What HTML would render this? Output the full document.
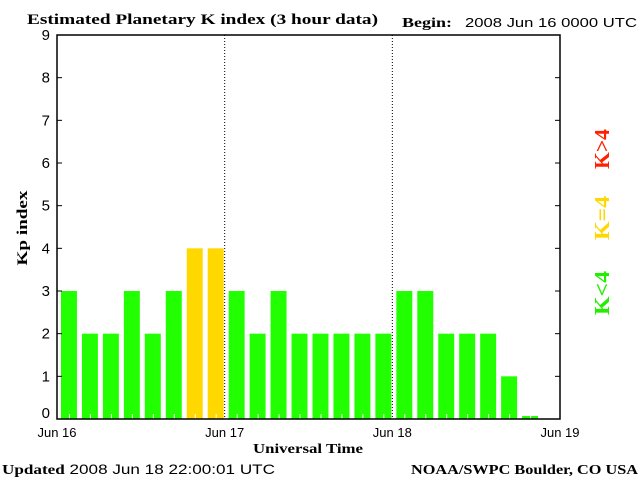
<!DOCTYPE html>
<html><head><meta charset="utf-8"><style>
body{margin:0;background:#fff;}
svg text{font-family:"Liberation Sans",sans-serif;}
.s{font-family:"Liberation Serif",serif;font-weight:bold;}
</style></head><body>
<svg width="640" height="480" viewBox="0 0 640 480">
<text class="s" x="27" y="24" font-size="15" textLength="351" lengthAdjust="spacingAndGlyphs">Estimated Planetary K index (3 hour data)</text>
<text class="s" x="402" y="27" font-size="14" textLength="50" lengthAdjust="spacingAndGlyphs">Begin:</text>
<text x="465" y="27" font-size="13" textLength="172" lengthAdjust="spacingAndGlyphs">2008 Jun 16 0000 UTC</text>
<g id="bars"></g>
<g id="axes"></g>
<text class="s" transform="translate(27,228) rotate(-90)" text-anchor="middle" font-size="15" textLength="75" lengthAdjust="spacingAndGlyphs">Kp index</text>
<text class="s" x="308" y="453" text-anchor="middle" font-size="14" textLength="110" lengthAdjust="spacingAndGlyphs">Universal Time</text>
<text x="2" y="474" font-size="14" textLength="273" lengthAdjust="spacingAndGlyphs"><tspan class="s">Updated</tspan> 2008 Jun 18 22:00:01 UTC</text>
<text class="s" x="411" y="474" font-size="14" textLength="227" lengthAdjust="spacingAndGlyphs">NOAA/SWPC Boulder, CO USA</text>
<text class="s" transform="translate(609,149) rotate(-90)" text-anchor="middle" font-size="21" textLength="40" lengthAdjust="spacingAndGlyphs" fill="#ff2000">K&gt;4</text>
<text class="s" transform="translate(609,218) rotate(-90)" text-anchor="middle" font-size="21" textLength="44" lengthAdjust="spacingAndGlyphs" fill="#ffd800">K=4</text>
<text class="s" transform="translate(609,293) rotate(-90)" text-anchor="middle" font-size="21" textLength="44" lengthAdjust="spacingAndGlyphs" fill="#22ee00">K&lt;4</text>
</svg>
<script>
const kpValues=[3,2,2,3,2,3,4,4,3,2,3,2,2,2,2,2,3,3,2,2,2,1,0.07];
const yTicks=[0,1,2,3,4,5,6,7,8,9];
const dayLabels=["Jun 16","Jun 17","Jun 18","Jun 19"];
const NS="http://www.w3.org/2000/svg";
const L=57,R=560,T=35,B=419,slots=24;
const sw=(R-L)/slots;
function y(v){return B-(B-T)*v/9;}
function xs(i){return L+i*sw;}
function mk(t,a,p){const e=document.createElementNS(NS,t);for(const k in a)e.setAttribute(k,a[k]);p.appendChild(e);return e;}
const bars=document.getElementById('bars'),axes=document.getElementById('axes');
kpValues.forEach((v,i)=>{
 const c=v>4?'#ff2000':(v==4?'#ffd800':'#22ff00');
 const r=mk('rect',{x:xs(i)+4,y:y(v),width:sw-5,height:B-y(v),fill:c},bars);
 
 
});
for(let i=0;i<slots;i++){
 mk('line',{x1:xs(i)+sw/2+2,x2:xs(i)+sw/2+2,y1:B,y2:B-5,stroke:'#fff'},axes);
}
[1,2].forEach(d=>{const x=L+d*8*sw;mk('line',{x1:x,x2:x,y1:T,y2:B,stroke:'#000','stroke-dasharray':'1,2'},axes);});
mk('rect',{x:L,y:T,width:R-L,height:B-T,fill:'none',stroke:'#000','stroke-width':1.5},axes);
yTicks.forEach(v=>{
 mk('line',{x1:L,x2:L+5,y1:y(v),y2:y(v),stroke:'#000'},axes);
 mk('line',{x1:R,x2:R-5,y1:y(v),y2:y(v),stroke:'#000'},axes);
 const t=mk('text',{x:L-7,y:y(v)+(v==0?-1:5),'text-anchor':'end','font-size':15},axes);t.textContent=v;
 
 
});
dayLabels.forEach((d,i)=>{
 const t=mk('text',{x:L+i*8*sw,y:437,'text-anchor':'middle','font-size':13},axes);t.textContent=d;
 
 
});
</script>
</body></html>
